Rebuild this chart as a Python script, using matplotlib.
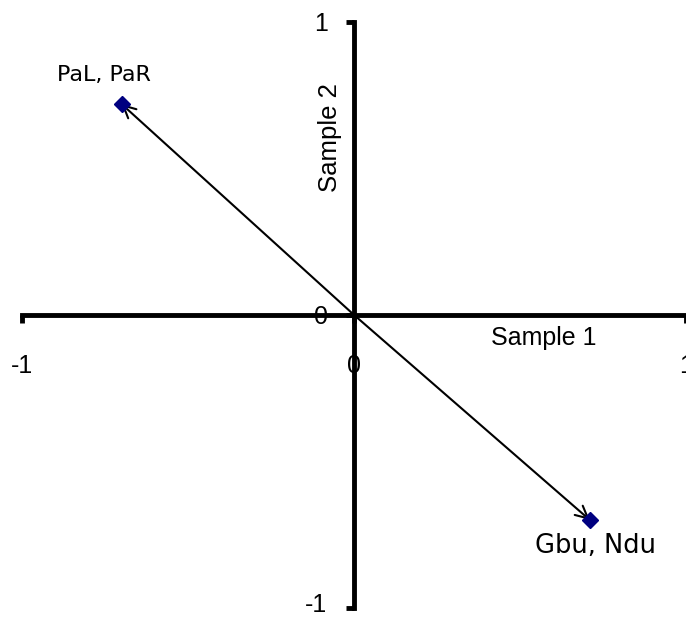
import matplotlib.pyplot as plt
import matplotlib.transforms as mtransforms
import numpy as np

# loadings of the two sample pairs on the first two components
names = ["PaL, PaR", "Gbu, Ndu"]
sample1 = [-0.70, 0.71]
sample2 = [0.72, -0.70]

plt.rcParams['font.family'] = ['Liberation Sans', 'DejaVu Sans']

fig = plt.figure(figsize=(6.86, 6.18), dpi=100)
ax = fig.add_axes([0, 0, 1, 1])
ax.set_xlim(-1.066, 0.994)
ax.set_ylim(-1.035, 1.075)

# axes crossing at the origin, ticks only at the ends
for side in ['top', 'right']:
    ax.spines[side].set_visible(False)
for side in ['left', 'bottom']:
    ax.spines[side].set_position(('data', 0))
    ax.spines[side].set_bounds(-1, 1)
    ax.spines[side].set_linewidth(3.5)
    ax.spines[side].set_capstyle('projecting')

ax.set_xticks([-1, 0, 1])
ax.set_xticklabels(["-1", "0", "1"])
ax.set_yticks([-1, 0, 1])
ax.set_yticklabels(["-1", "0", "1"])
ax.tick_params(axis='x', direction='out', length=6, width=3.5, pad=22, labelsize=18)
ax.tick_params(axis='y', direction='out', length=6, width=3.5, pad=13, labelsize=18)

# lift the bottom "-1" a little so it stays inside the figure
lbl = ax.get_yticklabels()[0]
lbl.set_transform(lbl.get_transform() +
                  mtransforms.ScaledTranslation(0, 5 / 100, fig.dpi_scale_trans))

ax.text(0.571, -0.078, "Sample 1", fontsize=18, ha='center', va='center')
ax.text(-0.072, 0.607, "Sample 2", fontsize=18.5, ha='center', va='center', rotation=90)

# label offsets and sizes for each point
offsets = [(-0.054, 0.099), (0.017, -0.088)]
sizes = [16, 18.5]

for name, x, y, (dx, dy), fs in zip(names, sample1, sample2, offsets, sizes):
    ax.annotate("", xy=(x, y), xytext=(0, 0),
                arrowprops=dict(arrowstyle='->', color='black', lw=1.5,
                                mutation_scale=22, shrinkA=0, shrinkB=0))
    ax.plot(x, y, marker='D', color='#000080', markersize=8, zorder=3)
    ax.text(x + dx, y + dy, name, fontsize=fs, ha='center', va='center',
            family='DejaVu Sans')

plt.savefig("out.png", dpi=100)
